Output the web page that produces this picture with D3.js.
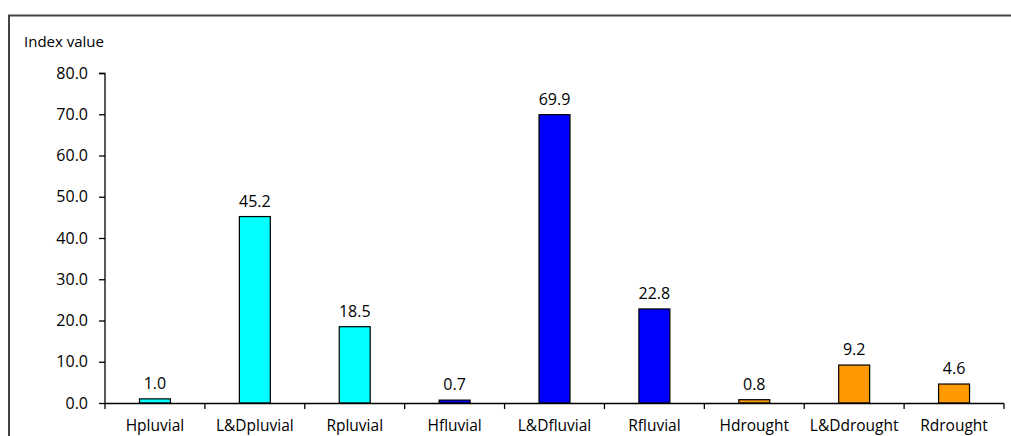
<!DOCTYPE html>
<html>
<head>
<meta charset="utf-8">
<script src="https://cdn.jsdelivr.net/npm/d3@7"></script>
<style>
  body { margin: 0; background: #fff; }
  text { font-family: "Open Sans", sans-serif; fill: #000; }
</style>
</head>
<body>
<div id="chart-area"></div>
<script>
// data
let categories = ["Hpluvial", "L&Dpluvial", "Rpluvial", "Hfluvial", "L&Dfluvial", "Rfluvial", "Hdrought", "L&Ddrought", "Rdrought"];
let values = [1.0, 45.2, 18.5, 0.7, 69.9, 22.8, 0.8, 9.2, 4.6];
let groups = ["pluvial", "pluvial", "pluvial", "fluvial", "fluvial", "fluvial", "drought", "drought", "drought"];
let yTicks = [0, 10, 20, 30, 40, 50, 60, 70, 80];

let width = 1011,
    height = 436;

let svg = d3.select("#chart-area").append("svg")
    .attr("width", width)
    .attr("height", height);

// frame around the chart (only top/left visible in the crop)
svg.append("path")
  .attr("d", "M9,436 V15.5 H1011")
  .attr("fill", "none")
  .attr("stroke", "#444")
  .attr("stroke-width", 2);

let x = d3.scaleBand()
  .domain(categories)
  .range([105, 1004])
  .paddingInner(0.69)
  .paddingOuter(0.345);

let xTickScale = d3.scaleLinear().domain([0, categories.length]).range([105, 1004]);

let y = d3.scaleLinear()
  .domain([0, 80])
  .range([403, 73]);

let color = d3.scaleOrdinal()
  .domain(["pluvial", "fluvial", "drought"])
  .range(["#00FFFF", "#0000FF", "#FF9900"]);

// y axis
let yAxis = svg.append("g")
  .attr("transform", "translate(105,0)")
  .call(d3.axisLeft(y).tickValues(yTicks).tickFormat(d3.format(".1f")).tickSize(6).tickPadding(11));
yAxis.selectAll("path, line").attr("stroke", "#000").attr("stroke-width", 1.3);
yAxis.selectAll("text").style("font-size", "16px").attr("font-family", null);
yAxis.select(".domain").attr("d", "M0,403.5V73.5H-6");

// y title
svg.append("text")
  .attr("x", 24)
  .attr("y", 47)
  .style("font-size", "15px")
  .text("Index value");

// bars
svg.selectAll(".bar")
  .data(values)
  .enter().append("rect")
  .attr("class", "bar")
  .attr("x", function(d, i) { return x(categories[i]); })
  .attr("width", x.bandwidth())
  .attr("y", function(d) { return y(d); })
  .attr("height", function(d) { return y(0) - y(d); })
  .attr("fill", function(d, i) { return color(groups[i]); })
  .attr("stroke", "#000")
  .attr("stroke-width", 1.2);

// value labels
svg.selectAll(".val")
  .data(values)
  .enter().append("text")
  .attr("class", "val")
  .attr("x", function(d, i) { return x(categories[i]) + x.bandwidth() / 2; })
  .attr("y", function(d) { return y(d) - 10; })
  .attr("text-anchor", "middle")
  .style("font-size", "16px")
  .text(function(d) { return d3.format(".1f")(d); });

// x axis line + ticks at category boundaries
svg.append("line")
  .attr("x1", 105).attr("x2", 1004)
  .attr("y1", 403.5).attr("y2", 403.5)
  .attr("stroke", "#000").attr("stroke-width", 1.3);

svg.selectAll(".xtick")
  .data(d3.range(categories.length + 1))
  .enter().append("line")
  .attr("class", "xtick")
  .attr("x1", function(d) { return xTickScale(d); })
  .attr("x2", function(d) { return xTickScale(d); })
  .attr("y1", 403.5).attr("y2", 409)
  .attr("stroke", "#000").attr("stroke-width", 1.3);

svg.selectAll(".xlab")
  .data(categories)
  .enter().append("text")
  .attr("class", "xlab")
  .attr("x", function(d) { return x(d) + x.bandwidth() / 2; })
  .attr("y", 431)
  .attr("text-anchor", "middle")
  .style("font-size", "15.5px")
  .text(function(d) { return d; });
</script>
</body>
</html>
